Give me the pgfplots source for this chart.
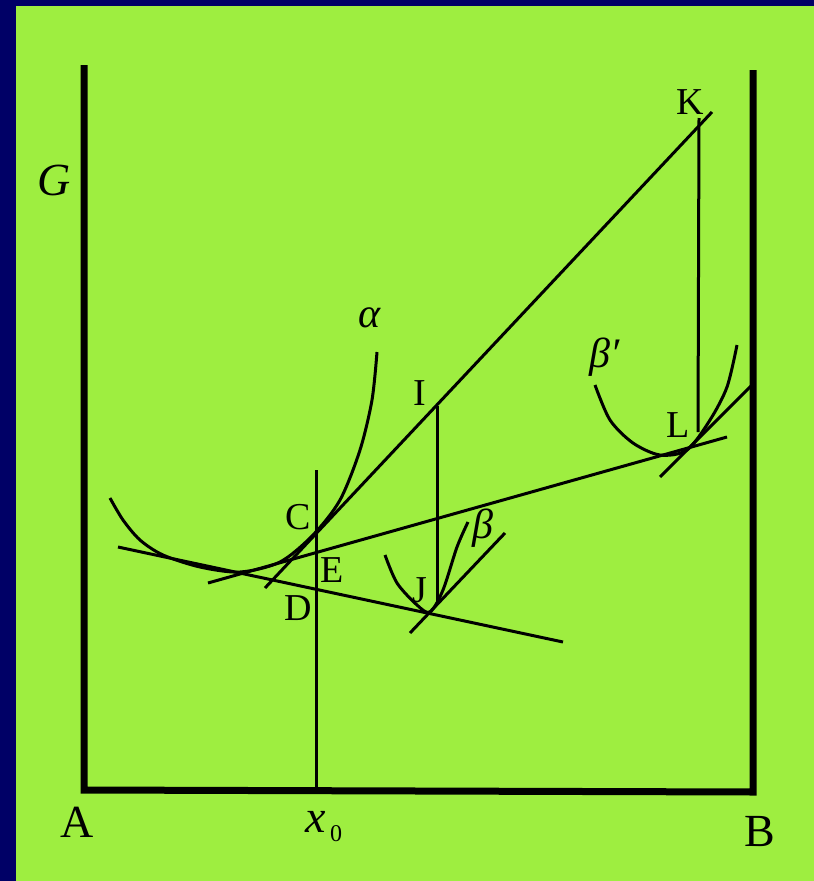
\documentclass[border=0pt]{standalone}
\usepackage{fontspec}
\setmainfont{Liberation Serif}
\usepackage{pgfplots}
\pgfplotsset{compat=1.18}
\definecolor{navy}{RGB}{0,0,102}
\definecolor{lime}{RGB}{158,238,64}
\begin{document}
\begin{tikzpicture}
\begin{axis}[width=814pt,height=881pt,scale only axis,
  xmin=0,xmax=814,ymin=0,ymax=881,y dir=reverse,hide axis,clip=true]
% background
\addplot[fill=navy,draw=none] coordinates {(0,0)(814,0)(814,881)(0,881)} --cycle;
\addplot[fill=lime,draw=none] coordinates {(16,6)(814,6)(814,881)(16,881)} --cycle;
% frame (G axis, composition axis, right wall)
\addplot[black,line width=7pt,line join=miter] coordinates {(84,65)(84,790)(753,792)(753,70)};
% x0 vertical
\addplot[black,line width=3pt] coordinates {(316,470)(316,790)};
% tangent lines
\addplot[black,line width=3pt] coordinates {(265,588)(712,112)};
\addplot[black,line width=3pt] coordinates {(208,583)(727,437)};
\addplot[black,line width=3pt] coordinates {(118,547)(563,642)};
\addplot[black,line width=3pt] coordinates {(437,406)(437,605)};
\addplot[black,line width=3pt] coordinates {(699,118)(698,432)};
\addplot[black,line width=3pt] coordinates {(660,477)(752,385)};
\addplot[black,line width=3pt] coordinates {(410,633)(505,533)};
% alpha curve
\addplot[black,line width=3pt,smooth] coordinates {(110,498)(123,520)(140,540)(163,555)(200,567)(240,572)(280,562)(313,535)(340,500)(360,450)(372,400)(377,352)};
% beta curve
\addplot[black,line width=3pt,smooth] coordinates {(385,555)(397,583)(417,605)(430,612)(443,590)(457,547)(468,522)};
% beta' curve
\addplot[black,line width=3pt,smooth] coordinates {(595,385)(610,420)(633,443)(660,455)(687,450)(710,420)(727,387)(737,345)};
% labels
\node[inner sep=0,font=\fontsize{46}{50}\selectfont\itshape] at (axis cs:54,180) {G};
\node[inner sep=0,font=\fontsize{46}{50}\selectfont] at (axis cs:77,822) {A};
\node[inner sep=0,font=\fontsize{46}{50}\selectfont] at (axis cs:760,831) {B};
\node[inner sep=0,font=\fontsize{46}{50}\selectfont\itshape,anchor=base west] at (axis cs:305,832) {x\kern0.1em\raisebox{-0.2em}{\fontsize{24}{24}\selectfont\upshape 0}};
\node[inner sep=0,font=\fontsize{38}{40}\selectfont] at (axis cs:298,517) {C};
\node[inner sep=0,font=\fontsize{38}{40}\selectfont] at (axis cs:332,570) {E};
\node[inner sep=0,font=\fontsize{38}{40}\selectfont] at (axis cs:298,608) {D};
\node[inner sep=0,font=\fontsize{38}{40}\selectfont] at (axis cs:420,393) {I};
\node[inner sep=0,font=\fontsize{38}{40}\selectfont] at (axis cs:420,590) {J};
\node[inner sep=0,font=\fontsize{38}{40}\selectfont] at (axis cs:678,425) {L};
\node[inner sep=0,font=\fontsize{38}{40}\selectfont] at (axis cs:690,102) {K};
\node[inner sep=0,font=\fontsize{42}{44}\selectfont\itshape] at (axis cs:370,318) {α};
\node[inner sep=0,font=\fontsize{42}{44}\selectfont\itshape] at (axis cs:483,528) {β};
\node[inner sep=0,font=\fontsize{42}{44}\selectfont\itshape] at (axis cs:605,357) {β′};
\end{axis}
\end{tikzpicture}
\end{document}
